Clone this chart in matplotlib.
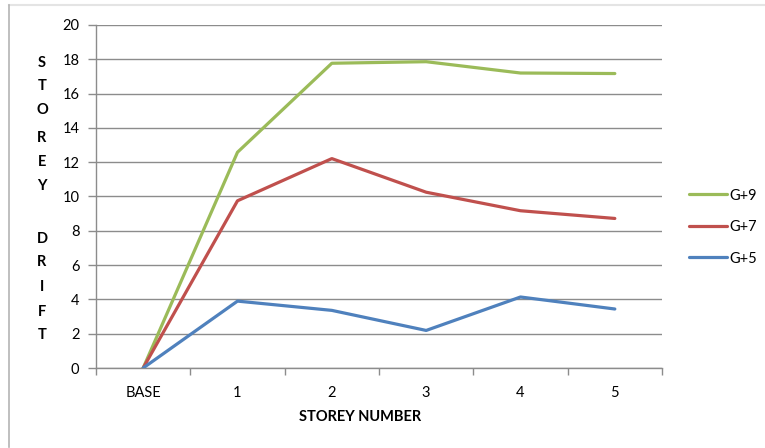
import matplotlib
matplotlib.use("Agg")
import matplotlib.pyplot as plt
from matplotlib.lines import Line2D

# Storey drift per storey for the three building heights
storeys = ["BASE", "1", "2", "3", "4", "5"]
drift_g9 = [0.0, 12.58, 17.77, 17.86, 17.20, 17.17]
drift_g7 = [0.0, 9.75, 12.21, 10.25, 9.17, 8.72]
drift_g5 = [0.0, 3.90, 3.36, 2.19, 4.14, 3.44]
series_names = ["G+9", "G+7", "G+5"]
y_ticks = [0, 2, 4, 6, 8, 10, 12, 14, 16, 18, 20]
y_title = "STOREY DRIFT"

plt.rcParams["font.family"] = ["Lato", "DejaVu Sans"]

W, H = 765, 448
fig = plt.figure(figsize=(W / 100, H / 100), dpi=100)
fig.patch.set_facecolor("white")

# Outer chart frame (top and left edges)
fig.add_artist(Line2D([8.5 / W, 1.0], [1 - 5.5 / H, 1 - 5.5 / H],
                      transform=fig.transFigure, color="#e4e4e4", lw=1.5))
fig.add_artist(Line2D([8.5 / W, 8.5 / W], [1 - 5.5 / H, 1 - 447 / H],
                      transform=fig.transFigure, color="#b4b4b4", lw=1.2))

left, right, top, bottom = 96, 662, 25, 368
ax = fig.add_axes([left / W, 1 - bottom / H, (right - left) / W, (bottom - top) / H])

x = list(range(len(storeys)))
colors = {"G+9": "#9BBB59", "G+7": "#C0504D", "G+5": "#4F81BD"}
for name, vals in zip(series_names, [drift_g9, drift_g7, drift_g5]):
    ax.plot(x, vals, color=colors[name], lw=2.3, solid_capstyle="round",
            solid_joinstyle="round", label=name, zorder=3)

ax.set_xlim(-0.5, len(storeys) - 0.5)
ax.set_ylim(0, 20)
ax.set_yticks(y_ticks)
ax.set_yticklabels([str(v) for v in y_ticks])
ax.yaxis.grid(True, color="#8c8c8c", lw=1.0)
ax.set_axisbelow(True)

# Category labels centred between the tick marks
ax.set_xticks(x)
ax.set_xticklabels(storeys)
ax.set_xticks([i - 0.5 for i in range(len(storeys) + 1)], minor=True)
ax.tick_params(axis="x", which="major", length=0, pad=13, labelsize=10.5, colors="#000000")
ax.tick_params(axis="x", which="minor", length=5, width=1, color="#8c8c8c", direction="out")
ax.tick_params(axis="y", length=6, width=1, color="#8c8c8c", direction="out",
               pad=6, labelsize=10.5, labelcolor="#000000")

for side in ["top", "right"]:
    ax.spines[side].set_visible(False)
for side in ["left", "bottom"]:
    ax.spines[side].set_color("#8c8c8c")
    ax.spines[side].set_linewidth(1.0)

# Vertical stacked axis title, one letter per row
letter_rows = [62.7, 85.5, 110.5, 137.5, 162.5, 186.5, None, 239, 261.7, 286.7, 311.5, 335]
for ch, row in zip(y_title, letter_rows):
    if ch.strip():
        fig.text(42 / W, 1 - row / H, ch, ha="center", va="center",
                 fontsize=10.5, fontweight="bold")

fig.text(360 / W, 1 - 417 / H, "STOREY NUMBER", ha="center", va="center",
         fontsize=10.5, fontweight="bold")

# Legend on the right
leg = fig.legend(loc="center left", bbox_to_anchor=(683 / W, 1 - 227 / H),
                 frameon=False, fontsize=10.5, handlelength=2.6, handletextpad=0.15,
                 labelspacing=1.2, borderaxespad=0)

fig.savefig("out.png", dpi=100)
